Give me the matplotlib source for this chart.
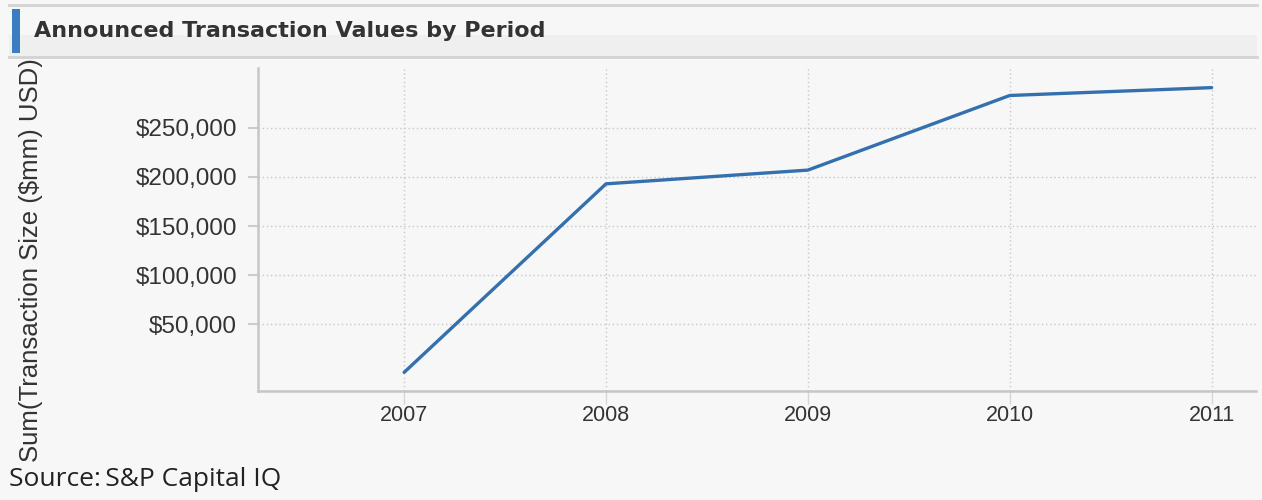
import matplotlib.pyplot as plt
from matplotlib.patches import Rectangle
from matplotlib.lines import Line2D
from matplotlib.ticker import FuncFormatter

years = [2007, 2008, 2009, 2010, 2011]
values = [1000, 193000, 207000, 283000, 291000]
yticks = [50000, 100000, 150000, 200000, 250000]

bg = '#f7f7f7'
W, H = 1262, 500
fig = plt.figure(figsize=(12.62, 5.0), dpi=100, facecolor=bg)

def fx(px):
    return px / W

def fy(py):
    return 1 - py / H

# title band: lighter top half, darker lower half, grey rules
fig.patches.append(Rectangle((fx(9), fy(57)), fx(1248), fy(35) - fy(57), transform=fig.transFigure,
                             facecolor='#efefef', edgecolor='none', zorder=0))
fig.lines.append(Line2D([fx(9), fx(1257)], [fy(5), fy(5)], transform=fig.transFigure, color='#d2d2d2', lw=2))
fig.lines.append(Line2D([fx(9), fx(1257)], [fy(57), fy(57)], transform=fig.transFigure, color='#d2d2d2', lw=2))
fig.patches.append(Rectangle((fx(12), fy(53)), fx(8), fy(9) - fy(53), transform=fig.transFigure,
                             facecolor='#3b7dbf', edgecolor='none'))
fig.text(fx(34), fy(31), 'Announced Transaction Values by Period', fontsize=16, fontweight='bold',
         color='#333333', family='DejaVu Sans', va='center', ha='left')

ax = fig.add_axes([fx(258), fy(391), fx(998), fy(68) - fy(391)])
ax.set_facecolor(bg)
ax.plot(years, values, color='#3470ad', lw=2.4, solid_capstyle='round')
ax.set_xlim(2006.276, 2011.22)
ax.set_ylim(-18000, 311000)
ax.set_xticks(years)
ax.set_yticks(yticks)
ax.yaxis.set_major_formatter(FuncFormatter(lambda v, p: '${:,.0f}'.format(v)))
ax.grid(True, color='#c8c8c8', linestyle=(0, (1, 2)), lw=1)
for s in ['top', 'right']:
    ax.spines[s].set_visible(False)
for s in ['left', 'bottom']:
    ax.spines[s].set_color('#c6c6c6')
    ax.spines[s].set_linewidth(1.8)
ax.tick_params(axis='y', length=7, color='#cccccc', width=1.5, labelsize=17.5, labelcolor='#333333', pad=8)
ax.tick_params(axis='x', length=9, color='#d6d6d6', width=1, labelsize=15.5, labelcolor='#333333', pad=1)
for lab in ax.get_xticklabels() + ax.get_yticklabels():
    lab.set_family('Liberation Sans')

fig.text(fx(31), fy(260), 'Sum(Transaction Size ($mm) USD)', rotation=90, fontsize=18.5,
         color='#333333', family='Liberation Sans', va='center', ha='center')
fig.text(fx(9), fy(480), 'Source:\u2009S&P Capital IQ', fontsize=19, color='#222222',
         family=['Open Sans', 'DejaVu Sans'], va='center', ha='left')

fig.savefig('out.png', dpi=100, facecolor=bg)
